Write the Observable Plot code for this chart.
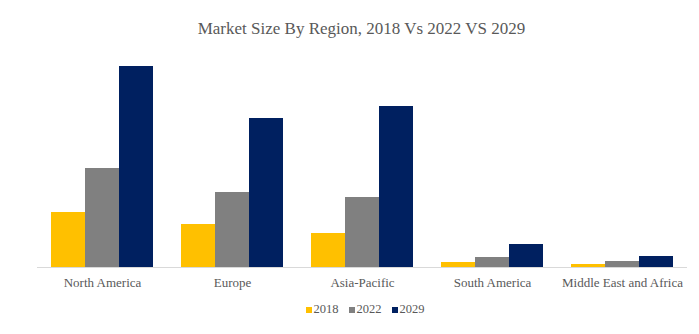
<!DOCTYPE html>
<html>
<head>
<meta charset="utf-8">
<script src="https://cdn.jsdelivr.net/npm/d3@7"></script>
<script src="https://cdn.jsdelivr.net/npm/@observablehq/plot@0.6"></script>
<style>
  html, body { margin: 0; padding: 0; background: #fff; }
  #wrap { width: 699px; height: 334px; overflow: hidden; font-family: "Liberation Serif", "DejaVu Serif", serif; color: #595959; }
  #title { height: 45px; box-sizing: border-box; padding-top: 19px; line-height: 20px; font-size: 17px; text-align: center; padding-left: 24px; }
  #legend { box-sizing: border-box; padding: 2px 12px 0 43px; display: flex; justify-content: center; align-items: baseline; font-size: 12.5px; line-height: 16px; }
  .item { display: flex; align-items: baseline; margin: 0 5px; }
  .sw { display: inline-block; width: 6px; height: 6px; margin-right: 2px; }
  svg { display: block; }
</style>
</head>
<body>
<div id="wrap">
  <div id="title">Market Size By Region, 2018 Vs 2022 VS 2029</div>
  <div id="chart"></div>
  <div id="legend"></div>
</div>
<script>
const title = "Market Size By Region, 2018 Vs 2022 VS 2029";
const regions = ["North America", "Europe", "Asia-Pacific", "South America", "Middle East and Africa"];
const years = ["2018", "2022", "2029"];
const colors = ["#FFC000", "#808080", "#002060"];
const values2018 = [55, 43, 34, 5, 3];
const values2022 = [99, 75, 70, 10, 6];
const values2029 = [201, 149, 161, 23, 11];

const series = [values2018, values2022, values2029];
const data = [];
regions.forEach((r, i) => years.forEach((y, j) => data.push({region: r, year: y, value: series[j][i]})));

document.getElementById("title").textContent = title;

const chart = Plot.plot({
  width: 699,
  height: 254,
  marginTop: 12,
  marginBottom: 32,
  marginLeft: 37,
  marginRight: 12,
  style: {fontSize: "13px", fontFamily: "'Liberation Serif', serif", color: "#595959", background: "transparent"},
  facet: {data, x: "region"},
  fx: {domain: regions, paddingInner: 0.2, paddingOuter: 0.1, label: null, axis: "bottom", tickSize: 0, tickPadding: 10},
  x: {domain: years, padding: 0, axis: null},
  y: {domain: [0, 210], axis: null},
  color: {domain: years, range: colors},
  marks: [
    Plot.barY(data, {x: "year", y: "value", fill: "year", inset: 0})
  ]
});

// full-width baseline using the chart's own scales
const fxScale = chart.scale("fx");
const yScale = chart.scale("y");
const y0 = yScale.apply(0);
d3.select(chart).insert("line", ":first-child")
  .attr("x1", fxScale.range[0]).attr("x2", fxScale.range[1])
  .attr("y1", y0 + 0.5).attr("y2", y0 + 0.5)
  .attr("stroke", "#d9d9d9").attr("stroke-width", 1);

document.getElementById("chart").appendChild(chart);

const legend = d3.select("#legend");
years.forEach((y, i) => {
  const it = legend.append("div").attr("class", "item");
  it.append("span").attr("class", "sw").style("background", colors[i]);
  it.append("span").text(y);
});
</script>
</body>
</html>
